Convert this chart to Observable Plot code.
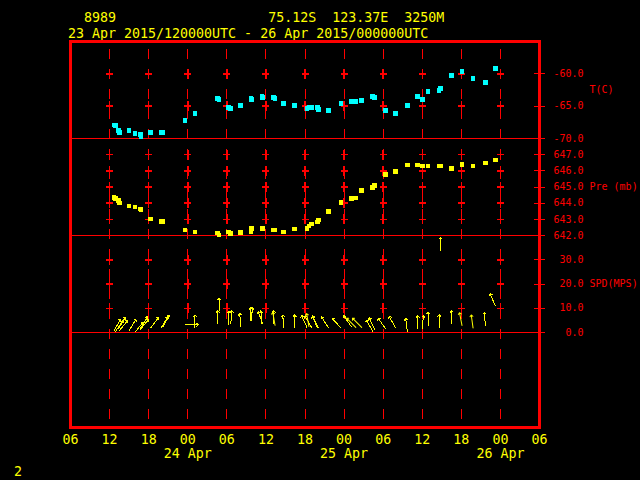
<!DOCTYPE html>
<html><head><meta charset="utf-8">
<script src="https://cdn.jsdelivr.net/npm/d3@7"></script>
<script src="https://cdn.jsdelivr.net/npm/@observablehq/plot@0.6"></script>
<style>
html,body{margin:0;padding:0;background:#000;}
#chart{position:relative;width:640px;height:480px;background:#000;overflow:hidden;}
#chart svg{position:absolute;left:0;top:0;shape-rendering:crispEdges;}
.lbl{position:absolute;font-family:"DejaVu Sans Mono",monospace;color:#ffff00;white-space:pre;font-size:13.3px;line-height:12px;}
</style></head><body>
<div id="chart">
<div class="lbl" style="left:68px;top:11.6px">  8989                   75.12S  123.37E  3250M</div>
<div class="lbl" style="left:68px;top:27.8px">23 Apr 2015/120000UTC - 26 Apr 2015/000000UTC</div>
<div class="lbl" style="left:14px;top:466px">2</div>
</div>
<script>
// ---- data (hours after 2015-04-23 00:00 UTC) ----
const OBS_HOURS = [12.7,12.9,13.4,13.5,15.0,15.9,16.7,16.8,18.3,19.9,20.2,23.6,25.1,28.6,28.8,30.3,30.6,32.1,33.7,33.8,35.4,35.5,37.2,37.4,38.7,40.4,42.3,42.6,43.0,43.9,44.1,45.6,47.5,49.1,49.8,50.7,52.4,52.7,54.4,55.9,57.7,59.3,60.0,60.9,62.6,62.8,64.5,66.1,67.8,69.7,71.2];
const TEMP_C = [-67.9,-68.0,-68.8,-69.1,-68.8,-69.2,-69.4,-69.7,-69.1,-69.1,-69.1,-67.2,-66.1,-63.8,-64.0,-65.2,-65.4,-64.9,-63.8,-64.0,-63.5,-63.7,-63.7,-63.8,-64.6,-64.9,-65.4,-65.2,-65.2,-65.2,-65.5,-65.7,-64.6,-64.3,-64.3,-64.1,-63.5,-63.7,-65.7,-66.1,-64.9,-63.5,-64.0,-62.7,-62.6,-62.3,-60.3,-59.6,-60.7,-61.3,-59.2];
const PRES_MB = [644.35,644.27,644.16,644.02,643.83,643.77,643.64,643.6,643.02,642.85,642.85,642.35,642.22,642.16,642.04,642.22,642.14,642.2,642.22,642.45,642.45,642.45,642.33,642.33,642.22,642.4,642.45,642.58,642.7,642.83,642.95,643.47,644.04,644.27,644.33,644.77,644.96,645.08,645.77,645.96,646.35,646.35,646.29,646.29,646.29,646.29,646.14,646.41,646.29,646.48,646.66];
const WIND_SPD = [0.8,0.4,1.6,0.8,0.8,0.1,1.2,1.9,1.9,1.9,2.5,3.2,1.9,3.6,8.7,3.3,3.6,2.5,4.9,4.9,3.6,3.6,3.6,3.0,1.9,1.9,2.1,2.5,2.1,1.9,1.9,1.9,1.9,2.5,2.1,2.1,0.5,1.2,1.5,1.9,0.5,1.5,1.6,2.9,1.9,33.8,3.6,2.9,1.9,2.9,11.1];
const WIND_TOWARD = [30,35,30,40,31,39,40,31,37,32,30,90,0,0,0,0,5,-3,0,3,-5,-20,0,-10,-3,0,-25,-10,-30,-22,-30,-32,-42,-35,-45,-45,-30,-25,-36,-29,-7,0,5,0,0,0,0,-11,-8,-5,-23];

const X_DOMAIN_HOURS = [6, 78];
const GRID_HOURS = [12,18,24,30,36,42,48,54,60,66,72];
const HOUR_TICKS = [6,12,18,24,30,36,42,48,54,60,66,72,78];
const DATE_TICK_HOURS = [24,48,72];
const DATE_LABELS = ["24 Apr","25 Apr","26 Apr"];

const T_DOMAIN = [-70,-55], T_TICKS = [-70,-65,-60], T_LABEL = "T(C)";
const P_DOMAIN = [642,648], P_TICKS = [642,643,644,645,646,647], P_LABEL = "Pre (mb)";
const S_DOMAIN = [0,40], S_TICKS = [0,10,20,30], S_LABEL = "SPD(MPS)";

// ---- helpers ----
const BASE = Date.UTC(2015,3,23,0);
const toDate = h => new Date(BASE + h*3600e3);
const RED = "#ff0000", YEL = "#ffff00", CYAN = "#00ffff";
const FONT = "DejaVu Sans Mono";
const W = 640, H = 480, ML = 70, MR = 101;
const X_END = toDate(X_DOMAIN_HOURS[1]);
const OBS = OBS_HOURS.map((h,i)=>({time: toDate(h), t: TEMP_C[i], p: PRES_MB[i], s: WIND_SPD[i], rot: WIND_TOWARD[i]}));

const crossSymbol = { draw(ctx, size){ const r = Math.sqrt(size/Math.PI); const w = r*0.7;
  ctx.moveTo(-w,0); ctx.lineTo(w,0); ctx.moveTo(0,-r); ctx.lineTo(0,r); } };

function base(top, bottom, yDomain, marks){
  return Plot.plot({
    width: W, height: H, marginLeft: ML, marginRight: MR, marginTop: top, marginBottom: H-bottom,
    x: {type: "utc", domain: X_DOMAIN_HOURS.map(toDate), axis: null},
    y: {domain: yDomain, axis: null},
    style: {background: "transparent", fontFamily: FONT, overflow: "visible"},
    marks
  });
}
function axisMarks(ticks, yDomain, label, fmt){
  const inner = ticks.filter(v => v !== yDomain[0]);
  return [
    Plot.ruleY([yDomain[0]], {stroke: RED, insetRight: -6}),
    Plot.ruleY(ticks, {y: d=>d, x1: X_END, x2: X_END, insetLeft: -5, insetRight: -6, stroke: RED}),
    Plot.dot(d3.cross(GRID_HOURS, inner), {x: d=>toDate(d[0]), y: d=>d[1], symbol: crossSymbol, r: 5, stroke: RED, fill: "none"}),
    Plot.text(ticks, {x: X_END, y: d=>d, text: fmt, textAnchor: "end", dx: 44, fill: RED, fontSize: 10, fontFamily: FONT}),
    Plot.text([label], {frameAnchor: "right", textAnchor: "start", dx: 50, fill: RED, fontSize: 10, fontFamily: FONT})
  ];
}
const f1 = d => d.toFixed(1);
const chart = document.getElementById("chart");

// overlay: frame, dashed grid, time axis labels
chart.appendChild(base(41, 427, [0,1], [
  Plot.ruleX(GRID_HOURS, {x: toDate, stroke: RED, strokeDasharray: "10,10", strokeDashoffset: 12}),
  Plot.frame({stroke: RED, strokeWidth: 3}),
  Plot.text(HOUR_TICKS, {x: toDate, frameAnchor: "bottom", dy: 16, text: h => String(h % 24).padStart(2,"0"), fill: YEL, fontSize: 13.3, fontFamily: FONT}),
  Plot.text(DATE_TICK_HOURS, {x: toDate, frameAnchor: "bottom", dy: 30, text: (h,i) => DATE_LABELS[i], fill: YEL, fontSize: 13.3, fontFamily: FONT})
]));

// temperature panel
chart.appendChild(base(41, 138, T_DOMAIN, [
  ...axisMarks(T_TICKS, T_DOMAIN, T_LABEL, f1),
  Plot.dot(OBS, {x: "time", y: "t", symbol: "square", r: 2.6, fill: CYAN, stroke: "none"})
]));
// pressure panel
chart.appendChild(base(138, 235, P_DOMAIN, [
  ...axisMarks(P_TICKS, P_DOMAIN, P_LABEL, f1),
  Plot.dot(OBS, {x: "time", y: "p", symbol: "square", r: 2.6, fill: YEL, stroke: "none"})
]));
// wind panel
chart.appendChild(base(235, 332, S_DOMAIN, [
  ...axisMarks(S_TICKS, S_DOMAIN, S_LABEL, f1),
  Plot.vector(OBS, {x: "time", y: "s", rotate: "rot", length: 13, anchor: "start", r: 2, stroke: YEL, strokeWidth: 1})
]));
</script>
</body></html>
